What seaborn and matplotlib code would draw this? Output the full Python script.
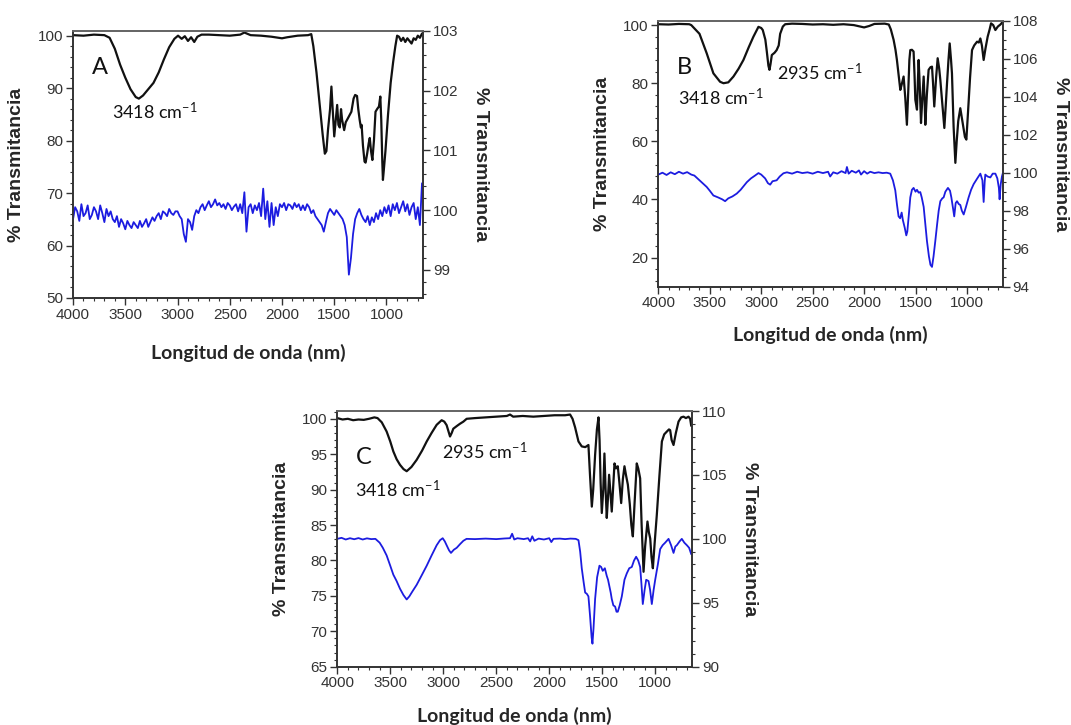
import numpy as np
import pandas as pd
import matplotlib
matplotlib.use("Agg")
import matplotlib.pyplot as plt
from matplotlib.ticker import MultipleLocator
import seaborn as sns

# ---------------- data (wavenumber cm-1, % transmittance) ----------------
# Panel A, black (left axis)
a_k_wn = [4000, 3900, 3800, 3700, 3650, 3600, 3550, 3500, 3450, 3400, 3370, 3330, 3280, 3230, 3180,
          3130, 3080, 3030, 2995, 2960, 2930, 2900, 2870, 2840, 2810, 2770, 2700, 2600, 2500, 2400,
          2360, 2300, 2200, 2100, 2000, 1950, 1850, 1750, 1720, 1700, 1670, 1640, 1610, 1590, 1575,
          1560, 1540, 1527, 1515, 1500, 1485, 1472, 1460, 1447, 1435, 1425, 1405, 1390, 1368, 1336,
          1315, 1300, 1282, 1270, 1257, 1245, 1238, 1225, 1210, 1200, 1185, 1170, 1160, 1148, 1135,
          1120, 1105, 1090, 1072, 1059, 1050, 1040, 1034, 1025, 1010, 985, 960, 936, 915, 898,
          880, 860, 840, 820, 800, 780, 760, 740, 720, 700, 680, 660, 650]
a_k_t = [100.1, 100.0, 100.2, 100.1, 99.6, 97.5, 94.5, 92.0, 89.8, 88.3, 88.0, 88.6, 89.8, 91.0, 93.0,
         95.5, 97.8, 99.4, 100.0, 99.4, 99.9, 99.0, 99.7, 98.8, 99.8, 100.2, 100.2, 100.1, 100.0, 100.2,
         100.6, 100.1, 100.0, 99.8, 99.5, 99.7, 100.0, 100.1, 100.3, 98.0, 93.0, 87.0, 81.0, 77.5, 78.0,
         82.0, 86.0, 90.3, 86.0, 80.8, 84.0, 86.8, 83.0, 82.5, 86.0, 84.0, 82.0, 83.5, 84.3, 85.5,
         88.0, 88.7, 88.5, 86.0, 84.0, 82.5, 83.0, 79.0, 76.0, 75.8, 77.5, 79.5, 80.5, 78.0, 76.3,
         80.0, 85.5, 86.0, 86.5, 88.4, 84.0, 76.0, 72.5, 74.5, 78.0, 85.0, 91.0, 95.0, 98.0, 100.0,
         99.8, 99.0, 99.6, 98.8, 99.5, 99.0, 98.5, 99.5, 99.2, 100.0, 99.6, 100.4, 100.5]

# Panel A, blue (right axis), sampled every 20 cm-1 from 4000 downwards
a_b_t = [99.85, 100.05, 99.98, 99.82, 100.1, 99.9, 99.95, 100.08, 99.85, 99.92,
         100.05, 99.98, 99.85, 100.08, 99.95, 99.8, 100.02, 99.9, 99.98, 99.85,
         99.8, 99.9, 99.72, 99.85, 99.78, 99.68, 99.82, 99.75, 99.7, 99.8,
         99.75, 99.7, 99.82, 99.72, 99.78, 99.85, 99.72, 99.8, 99.88, 99.82,
         99.9, 99.95, 99.85, 99.98, 99.95, 99.9, 100.02, 99.95, 99.92, 99.98,
         99.98, 99.9, 99.85, 99.6, 99.47, 99.85, 99.8, 99.67, 99.9, 100.0,
         99.95, 100.05, 100.1, 100.0, 100.08, 100.15, 100.05, 100.1, 100.18, 100.08,
         100.12, 100.05, 100.1, 100.02, 100.12, 100.08, 100.0, 100.06, 100.1, 99.98,
         100.1, 99.95, 100.3, 99.64, 100.05, 100.1, 99.95, 100.08, 100.0, 100.12,
         99.9, 100.36, 99.85, 100.15, 99.72, 100.12, 99.75, 100.05, 99.9, 100.1,
         100.05, 100.12, 100.0, 100.1, 100.08, 100.02, 100.12, 100.05, 100.1, 100.0,
         100.08, 100.0, 100.1, 100.05, 99.95, 100.0, 99.9, 99.85, 99.8, 99.75,
         99.64, 99.8, 99.95, 100.02, 99.97, 99.92, 100.0, 99.95, 99.9, 99.85,
         99.75, 99.55, 98.92, 99.2, 99.6, 99.85, 99.95, 100.02, 99.92, 99.85,
         99.8, 99.9, 99.75, 99.88, 99.8, 99.95, 99.85, 100.0, 99.9, 100.05,
         99.95, 100.08, 99.9, 100.1, 100.0, 100.12, 99.95, 100.05, 100.15, 99.98,
         100.1, 99.92, 100.05, 100.12, 99.85, 100.05, 99.75, 100.45]
a_b_wn = 4000 - 20 * np.arange(len(a_b_t))

# Panel B, black (left axis)
b_k_wn = [4000, 3900, 3800, 3700, 3680, 3600, 3530, 3465, 3400, 3367, 3320, 3270, 3220, 3173, 3120,
          3076, 3027, 3000, 2985, 2960, 2946, 2930, 2920, 2910, 2897, 2870, 2850, 2830, 2816, 2790,
          2767, 2700, 2600, 2500, 2400, 2300, 2200, 2100, 2000, 1950, 1900, 1800, 1760, 1740, 1713,
          1695, 1681, 1665, 1648, 1635, 1616, 1600, 1584, 1570, 1560, 1551, 1535, 1519, 1510, 1502,
          1486, 1478, 1470, 1460, 1447, 1435, 1421, 1412, 1405, 1390, 1373, 1355, 1340, 1330, 1318,
          1300, 1285, 1270, 1259, 1240, 1220, 1207, 1194, 1180, 1168, 1155, 1146, 1130, 1113, 1100,
          1085, 1065, 1045, 1020, 1006, 990, 970, 951, 930, 902, 885, 870, 855, 838, 820,
          799, 780, 766, 745, 724, 700, 675, 655, 650]
b_k_t = [100.3, 100.2, 100.4, 100.3, 100.0, 97.0, 90.3, 83.4, 80.5, 80.0, 80.3, 82.3, 85.0, 88.0, 92.5,
         96.0, 99.4, 99.0, 98.3, 95.0, 91.0, 86.0, 84.6, 86.5, 89.7, 90.5, 91.4, 93.0, 97.0, 99.5,
         100.3, 100.5, 100.4, 100.2, 100.3, 100.1, 100.3, 100.0, 99.2, 99.7, 100.4, 100.5, 100.2, 98.5, 94.9,
         91.5, 88.0, 83.0, 77.7, 79.5, 82.3, 75.0, 65.7, 78.0, 88.0, 91.4, 91.5, 90.9, 83.0, 74.3,
         70.9, 80.0, 88.0, 80.0, 66.3, 74.0, 82.3, 74.0, 65.7, 76.0, 84.6, 85.5, 85.7, 80.0, 72.0,
         82.0, 88.6, 85.0, 81.1, 73.0, 64.6, 72.0, 80.0, 88.0, 93.7, 88.0, 83.4, 65.0, 52.6, 60.0,
         67.0, 71.4, 67.0, 61.5, 60.6, 70.0, 82.0, 91.4, 93.0, 94.3, 94.0, 95.4, 93.0, 88.0, 92.0,
         96.0, 98.5, 100.6, 100.0, 98.3, 99.5, 100.2, 101.0, 101.5]

# Panel B, blue (right axis)
b_b_wn = [4000, 3960, 3920, 3880, 3840, 3800, 3760, 3720, 3680, 3650, 3600, 3560, 3530, 3500, 3465,
          3420, 3380, 3351, 3320, 3280, 3238, 3200, 3170, 3140, 3100, 3060, 3027, 3000, 2962, 2935,
          2913, 2890, 2850, 2820, 2784, 2750, 2700, 2650, 2600, 2550, 2500, 2450, 2400, 2350, 2330,
          2300, 2260, 2220, 2180, 2167, 2150, 2120, 2080, 2050, 2030, 2000, 1970, 1940, 1900, 1860,
          1820, 1780, 1746, 1720, 1697, 1680, 1665, 1650, 1635, 1623, 1605, 1590, 1580, 1565, 1551,
          1535, 1519, 1500, 1486, 1470, 1454, 1440, 1421, 1405, 1389, 1370, 1355, 1340, 1325, 1308,
          1290, 1275, 1259, 1240, 1227, 1210, 1185, 1165, 1152, 1135, 1124, 1110, 1097, 1080, 1065,
          1050, 1032, 1010, 984, 960, 935, 900, 870, 850, 838, 828, 822, 800, 773, 750,
          724, 705, 690, 683, 672, 660, 650]
b_b_t = [99.9, 100.0, 99.88, 100.02, 99.92, 100.05, 99.95, 100.03, 99.9, 99.85, 99.6, 99.4, 99.25, 99.05, 98.8,
         98.7, 98.6, 98.5, 98.65, 98.75, 98.9, 99.1, 99.3, 99.5, 99.7, 99.85, 99.98, 99.9, 99.7, 99.45,
         99.37, 99.55, 99.6, 99.8, 99.97, 100.02, 99.95, 100.05, 99.98, 100.02, 99.95, 100.05, 99.98, 100.05, 99.8,
         100.02, 99.95, 100.08, 99.98, 100.3, 99.95, 100.1, 100.0, 100.12, 99.9, 100.08, 99.95, 100.05, 99.98, 100.02,
         99.98, 100.0, 99.95, 99.6, 99.07, 98.3, 97.7, 97.6, 97.9, 97.5, 97.1, 96.7, 96.9, 97.8, 98.7,
         99.1, 99.2, 99.0, 99.1, 98.95, 98.98, 98.7, 98.2, 97.3, 96.4, 95.6, 95.15, 95.04, 95.6, 96.4,
         97.3, 98.0, 98.5, 98.65, 98.7, 99.0, 99.2, 99.05, 98.7, 98.1, 97.7, 98.4, 98.5, 98.35, 98.3,
         98.0, 97.8, 98.2, 98.7, 99.1, 99.4, 99.7, 99.95, 99.6, 98.46, 99.5, 99.9, 99.8, 99.75, 99.95,
         99.95, 99.7, 99.2, 98.6, 99.4, 99.8, 100.0]

# Panel C, black (left axis)
c_k_wn = [4000, 3950, 3900, 3850, 3800, 3750, 3700, 3650, 3620, 3580, 3534, 3500, 3471, 3440, 3408,
          3375, 3345, 3300, 3251, 3200, 3156, 3110, 3062, 3015, 2990, 2968, 2950, 2936, 2920, 2905,
          2870, 2842, 2810, 2779, 2700, 2600, 2500, 2400, 2370, 2340, 2250, 2150, 2050, 1950, 1850,
          1803, 1780, 1756, 1740, 1724, 1693, 1660, 1630, 1615, 1598, 1585, 1567, 1550, 1535, 1525,
          1515, 1504, 1490, 1479, 1468, 1457, 1445, 1435, 1422, 1410, 1398, 1384, 1370, 1353, 1338,
          1321, 1305, 1290, 1275, 1258, 1240, 1225, 1211, 1195, 1174, 1160, 1142, 1128, 1110, 1095,
          1073, 1060, 1047, 1035, 1022, 1005, 985, 960, 937, 915, 890, 870, 859, 845, 827,
          805, 780, 755, 733, 710, 686, 670, 660]
c_k_t = [100.1, 99.9, 100.0, 99.8, 99.9, 99.85, 100.0, 100.2, 100.1, 99.5, 98.2, 96.8, 95.4, 94.3, 93.5,
         92.9, 92.6, 93.2, 94.2, 95.5, 96.8, 98.0, 99.15, 99.8, 99.6, 99.1, 98.2, 97.5, 98.0, 98.6,
         99.0, 99.3, 99.6, 100.0, 100.1, 100.2, 100.3, 100.4, 100.6, 100.3, 100.4, 100.3, 100.4, 100.5, 100.5,
         100.6, 100.0, 98.8, 97.8, 96.8, 96.1, 96.0, 96.3, 92.0, 87.6, 90.0, 94.9, 98.5, 100.2, 97.0,
         91.0, 86.7, 90.0, 95.1, 90.0, 86.0, 89.0, 92.1, 89.5, 86.9, 90.0, 93.7, 93.0, 93.3, 91.0,
         88.1, 91.5, 93.3, 92.0, 90.7, 88.0, 85.0, 83.4, 88.0, 93.7, 93.0, 91.6, 85.0, 78.4, 82.0,
         85.5, 84.0, 83.1, 80.5, 78.9, 82.5, 86.4, 92.0, 96.8, 97.8, 98.2, 98.5, 98.4, 97.0, 96.3,
         98.0, 99.6, 100.2, 100.3, 100.1, 100.3, 100.0, 99.0]

# Panel C, blue (right axis)
c_b_wn = [4000, 3960, 3920, 3880, 3840, 3800, 3760, 3720, 3680, 3640, 3600, 3570, 3534, 3500, 3471,
          3440, 3408, 3375, 3345, 3320, 3290, 3251, 3200, 3156, 3110, 3062, 3030, 3005, 2985, 2968,
          2945, 2927, 2900, 2873, 2840, 2810, 2780, 2700, 2600, 2500, 2420, 2370, 2350, 2330, 2300,
          2240, 2200, 2180, 2160, 2140, 2100, 2050, 2000, 1980, 1960, 1900, 1850, 1800, 1750, 1724,
          1708, 1693, 1675, 1661, 1645, 1630, 1615, 1600, 1592, 1582, 1567, 1548, 1526, 1510, 1495,
          1475, 1457, 1445, 1435, 1420, 1410, 1395, 1378, 1365, 1353, 1335, 1315, 1290, 1268, 1245,
          1221, 1200, 1180, 1160, 1142, 1130, 1117, 1100, 1085, 1063, 1048, 1032, 1015, 1000, 975,
          953, 930, 906, 874, 850, 827, 810, 796, 770, 749, 725, 701, 680, 660]
c_b_t = [100.0, 100.08, 99.95, 100.05, 99.97, 100.06, 99.95, 100.04, 99.98, 100.0, 99.7, 99.3, 98.7, 97.9, 97.2,
         96.7, 96.1, 95.6, 95.26, 95.5, 95.9, 96.4, 97.2, 97.9, 98.7, 99.5, 99.9, 100.05, 99.8, 99.5,
         99.1, 98.9, 99.15, 99.3, 99.6, 99.85, 100.0, 99.98, 100.02, 99.98, 100.03, 100.05, 100.4, 99.95, 100.05,
         99.98, 100.05, 99.8, 100.2, 99.85, 100.02, 99.95, 100.05, 99.75, 100.0, 100.02, 99.98, 100.02, 100.0, 99.9,
         99.0, 97.7, 96.6, 95.8, 95.7, 95.5, 94.0, 92.3, 91.8, 93.0, 95.3, 97.0, 97.9, 97.8, 97.5,
         97.7, 97.1, 96.8, 96.4, 95.8, 95.3, 94.8, 94.7, 94.3, 94.3, 94.8, 95.5, 96.8, 97.3, 97.7,
         97.8, 98.3, 98.6, 98.3, 97.8, 96.5, 94.9, 96.0, 96.8, 96.7, 96.0, 94.9, 96.0, 96.8, 98.0,
         99.2, 99.5, 99.7, 100.0, 99.5, 98.9, 99.4, 99.5, 99.8, 100.0, 99.7, 99.5, 99.3, 98.8]

# ---------------- styling ----------------
sns.set_style("ticks")
plt.rcParams["font.family"] = ["Liberation Sans", "DejaVu Sans"]
plt.rcParams["mathtext.fontset"] = "custom"
plt.rcParams["mathtext.rm"] = "Lato"
plt.rcParams["mathtext.it"] = "Lato"
plt.rcParams["mathtext.bf"] = "Lato:bold"

BLACK = "#111111"
BLUE = "#1c1ce0"
DARK = "#333333"
LABEL_TEXT = "% Transmitancia"
XLABEL_TEXT = "Longitud de onda (nm)"
ANNOT_OH = r"3418 cm$^{-1}$"
ANNOT_CH = r"2935 cm$^{-1}$"

fig = plt.figure(figsize=(10.71, 7.25), dpi=100)


def style_axis(ax, ax2, yl, yr, maj_l, min_l, maj_r, min_r, xpad):
    ax.set_xlim(4000, 650)
    ax.set_ylim(*yl)
    ax2.set_ylim(*yr)
    ax.xaxis.set_major_locator(MultipleLocator(500))
    ax.xaxis.set_minor_locator(MultipleLocator(100))
    ax.yaxis.set_major_locator(MultipleLocator(maj_l))
    ax.yaxis.set_minor_locator(MultipleLocator(min_l))
    ax2.yaxis.set_major_locator(MultipleLocator(maj_r))
    ax2.yaxis.set_minor_locator(MultipleLocator(min_r))
    for a in (ax, ax2):
        a.tick_params(which="major", direction="out", length=5, width=1.0,
                      color=DARK, labelsize=11, labelcolor=DARK, pad=2)
        a.tick_params(which="minor", direction="out", length=2.5, width=0.8, color=DARK)
        for side in ("left", "right", "bottom"):
            a.spines[side].set_visible(True)
            a.spines[side].set_color(DARK)
            a.spines[side].set_linewidth(1.2)
        a.spines["top"].set_visible(True)
        a.spines["top"].set_color("#666666")
        a.spines["top"].set_linewidth(1.3)
    ax.tick_params(axis="x", top=False)
    ax.set_xlabel(XLABEL_TEXT, fontfamily="Lato", fontweight="bold", fontsize=14, labelpad=xpad)
    ax.set_ylabel(LABEL_TEXT, fontweight="bold", fontsize=14, labelpad=9)
    ax2.set_ylabel(LABEL_TEXT, fontweight="bold", fontsize=14, rotation=270,
                   va="bottom", labelpad=10)


def panel(rect, kwn, kt, bwn, bt, yl, yr, maj_l, min_l, maj_r, min_r, letter, lpos, annots, xpad):
    ax = fig.add_axes(rect)
    ax2 = ax.twinx()
    sns.lineplot(x=kwn, y=kt, ax=ax, color=BLACK, linewidth=1.6, sort=False, estimator=None)
    sns.lineplot(x=bwn, y=bt, ax=ax2, color=BLUE, linewidth=1.3, sort=False, estimator=None)
    style_axis(ax, ax2, yl, yr, maj_l, min_l, maj_r, min_r, xpad)
    ax.text(lpos[0], lpos[1], letter, transform=ax.transAxes, fontfamily="Lato",
            fontsize=17, ha="center", va="center", color="#111111")
    for (tx, ty, s) in annots:
        ax.text(tx, ty, s, fontfamily="Lato", fontsize=13, ha="left", va="baseline",
                color="#111111")
    return ax, ax2


panel([0.0682, 0.589, 0.3268, 0.3683], a_k_wn, a_k_t, a_b_wn, a_b_t,
      (50, 100.9), (98.53, 103), 10, 2, 1, 0.2, "A", (0.077, 0.865),
      [(3630, 84.1, ANNOT_OH)], 16)

panel([0.6147, 0.6046, 0.3218, 0.3668], b_k_wn, b_k_t, b_b_wn, b_b_t,
      (10, 101.5), (94, 108), 20, 4, 2, 0.5, "B", (0.075, 0.826),
      [(3808, 72.6, ANNOT_OH), (2845, 81.1, ANNOT_CH)], 11)

panel([0.3149, 0.0804, 0.3315, 0.3527], c_k_wn, c_k_t, c_b_wn, c_b_t,
      (65, 101.1), (90, 110), 5, 1, 5, 1, "C", (0.075, 0.82),
      [(3833, 89.0, ANNOT_OH), (3011, 94.35, ANNOT_CH)], 12)

fig.savefig("out.png", dpi=100)
